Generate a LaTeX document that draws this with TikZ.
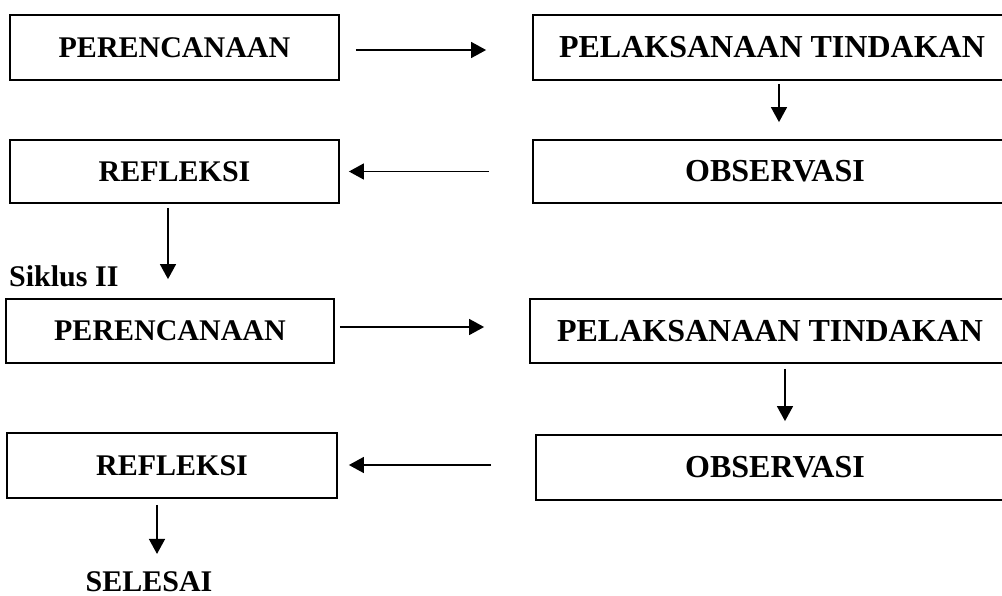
\documentclass[tikz,border=0pt]{standalone}
\usepackage{fontspec}
\setmainfont{Liberation Serif}
\usetikzlibrary{arrows.meta}
\begin{document}
\begin{tikzpicture}[x=1pt,y=-1pt,
  box/.style={draw=black,line width=1.8pt,rectangle,inner sep=0pt,minimum height=#1},
  lbl/.style={inner sep=0pt,font=\bfseries\fontsize{30}{36}\selectfont},
  lblr/.style={inner sep=0pt,font=\bfseries\fontsize{32}{38}\selectfont},
  arr/.style={line width=1.5pt,-{Triangle[length=15pt,width=16pt]}}]
\useasboundingbox (0,0) rectangle (1002,595);
\clip (0,0) rectangle (1002,595);
% cycle I
\node[box=65pt,minimum width=329pt,lbl] (per1) at (174.5,47.5) {PERENCANAAN};
\node[box=65pt,minimum width=478pt,lblr] (pel1) at (772,47.5) {PELAKSANAAN TINDAKAN};
\node[box=63pt,minimum width=329pt,lbl] (ref1) at (174.5,171.5) {REFLEKSI};
\node[box=63pt,minimum width=484pt,lblr] (obs1) at (775,171.5) {OBSERVASI};
% cycle II
\node[lbl,anchor=base west] (sik) at (9,286) {Siklus II};
\node[box=64pt,minimum width=328pt,lbl] (per2) at (170,331) {PERENCANAAN};
\node[box=64pt,minimum width=480pt,lblr] (pel2) at (770,331) {PELAKSANAAN TINDAKAN};
\node[box=65pt,minimum width=330pt,lbl] (ref2) at (172,465.5) {REFLEKSI};
\node[box=65pt,minimum width=478pt,lblr] (obs2) at (775,467.5) {OBSERVASI};
\node[lbl,anchor=base] (sel) at (149,591) {SELESAI};
% connectors
\draw[arr] ([xshift=16pt,yshift=-2.5pt]per1.east) -- ([xshift=-46pt,yshift=-2.5pt]pel1.west);
\draw[arr] ([xshift=7pt,yshift=-3pt]pel1.south) -- ([xshift=4pt,yshift=17pt]obs1.north);
\draw[arr] ([xshift=-43pt]obs1.west) -- ([xshift=9pt]ref1.east);
\draw[arr] ([xshift=-6.5pt,yshift=-4pt]ref1.south) -- ([xshift=-2pt,yshift=19pt]per2.north);
\draw[arr] ([xshift=5pt,yshift=4pt]per2.east) -- ([xshift=-45pt,yshift=4pt]pel2.west);
\draw[arr] ([xshift=15pt,yshift=-5pt]pel2.south) -- ([xshift=10pt,yshift=13pt]obs2.north);
\draw[arr] ([xshift=-44pt,yshift=2.5pt]obs2.west) -- ([xshift=11pt,yshift=0.5pt]ref2.east);
\draw[arr] ([xshift=-15pt,yshift=-6pt]ref2.south) -- ([xshift=8pt,yshift=17pt]sel.north);
\end{tikzpicture}
\end{document}
